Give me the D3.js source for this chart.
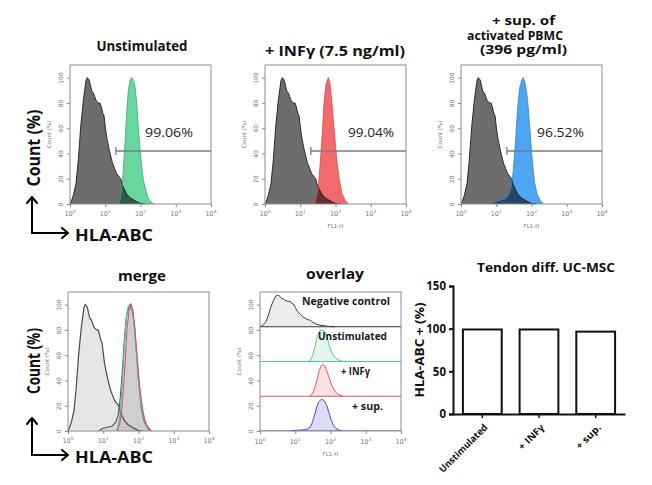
<!DOCTYPE html>
<html><head><meta charset="utf-8">
<script src="https://cdn.jsdelivr.net/npm/d3@7"></script>
<style>body{margin:0;background:#fff}svg{display:block}</style>
</head><body><svg id="c" width="652" height="485"></svg>
<script>
// ---------------- data ----------------
const xTickExps = [0, 1, 2, 3, 4];
const yTicks = [0, 20, 40, 60, 80, 100];
const barTicks = [0, 50, 100, 150];
// histogram profiles: [log10(FL1-H), count %]
const negControl = [[0,0],[0.047,3],[0.095,7],[0.17,16],[0.236,35],[0.303,61],[0.378,82],[0.454,98],[0.492,100],[0.548,98],[0.586,93],[0.624,89],[0.662,88],[0.7,85],[0.738,82],[0.775,81],[0.813,80],[0.851,80],[0.889,77],[0.927,72],[0.965,70],[1.002,61],[1.04,53],[1.097,45],[1.154,38],[1.21,32],[1.267,28],[1.324,24],[1.381,22],[1.437,20],[1.475,16],[1.532,12],[1.608,8],[1.702,5],[1.844,2.6],[1.986,0.5],[2.128,0]];
const unstimulated = [[1.371,0],[1.418,3],[1.466,11],[1.513,27],[1.56,48],[1.608,72],[1.655,90],[1.702,98],[1.749,100],[1.797,98],[1.844,93],[1.891,80],[1.939,61],[1.986,43],[2.033,30],[2.08,19],[2.156,10],[2.222,4.5],[2.317,1],[2.411,0]];
const infg = [[1.4,0],[1.466,6],[1.523,16],[1.579,37],[1.626,56],[1.674,80],[1.73,95],[1.797,100],[1.844,95],[1.891,82],[1.939,66],[1.986,51],[2.033,35],[2.109,19],[2.184,8],[2.27,3],[2.364,0]];
const supPBMC = [[0.879,0],[0.974,2],[1.116,3],[1.258,4],[1.352,7],[1.418,12],[1.475,24],[1.541,47],[1.607,76],[1.664,92],[1.721,98],[1.768,100],[1.825,95],[1.891,82],[1.948,61],[2.014,37],[2.08,18],[2.156,8],[2.251,2.6],[2.345,0]];
const positivePct = [99.06, 99.04, 96.52];
const pctLabels = ["99.06%", "99.04%", "96.52%"];
const barCategories = ["Unstimulated", "+ INFγ", "+ sup."];
const overlayLabels = ["Negative control", "Unstimulated", "+ INFγ", "+ sup."];
const gateRange = [20, 10000];
const gateLevel = 42;

// ---------------- drawing ----------------
const svg = d3.select('#c');
const FC = "'Open Sans','DejaVu Sans',sans-serif";
const FS = "'DejaVu Sans',sans-serif";

function text(x, y, s, size, w, opts = {}) {
  const t = svg.append('text').attr('x', x).attr('y', y).text(s)
    .attr('font-family', opts.family || FC).attr('font-size', size)
    .attr('font-weight', opts.weight || 700).attr('fill', opts.fill || '#111')
    .attr('text-anchor', opts.anchor || 'middle');
  if (opts.rotate) t.attr('transform', `rotate(${opts.rotate},${x},${y})`);
  if (w) t.attr('textLength', w).attr('lengthAdjust', 'spacingAndGlyphs');
  return t;
}

function frame(left, top, bottom, xlabOff, showXLabel) {
  const w = 141;
  const x = d3.scaleLog().domain([1, 1e4]).range([left, left + w]);
  const y = d3.scaleLinear().domain([0, 110]).range([bottom, top]);
  const g = svg.append('g');
  const id = 'clip' + left + '_' + top;
  svg.append('clipPath').attr('id', id).append('rect')
    .attr('x', left).attr('y', top).attr('width', w).attr('height', bottom - top);
  const plot = g.append('g').attr('clip-path', `url(#${id})`);
  const ax = svg.append('g');
  const ya = ax.append('g').attr('transform', `translate(${left},0)`)
    .call(d3.axisLeft(y).tickValues(yTicks).tickSize(3).tickPadding(3));
  ya.select('.domain').remove();
  ya.selectAll('line').attr('stroke', '#888');
  ya.selectAll('text').attr('font-family', FS).attr('font-size', 6).attr('fill', '#777')
    .attr('text-anchor', 'middle').attr('dy', 0).attr('x', 0).attr('y', 0)
    .attr('transform', 'translate(-7,0) rotate(-90)');
  const xa = ax.append('g').attr('transform', `translate(0,${bottom})`)
    .call(d3.axisBottom(x).tickValues(xTickExps.map(e => 10 ** e)).tickSize(3).tickFormat(''));
  xa.select('.domain').remove();
  xa.selectAll('line').attr('stroke', '#888');
  xTickExps.forEach(e => {
    const t = ax.append('text').attr('x', x(10 ** e)).attr('y', bottom + xlabOff)
      .attr('font-family', FS).attr('font-size', 6.5).attr('fill', '#777').attr('text-anchor', 'middle');
    t.append('tspan').text('10');
    t.append('tspan').attr('dy', -3).attr('font-size', 4.5).text(e);
  });
  if (showXLabel) {
    ax.append('text').attr('x', left + w / 2).attr('y', bottom + xlabOff + 12)
      .attr('font-family', FS).attr('font-size', 5.5).attr('fill', '#777').attr('text-anchor', 'middle').text('FL1-H');
  }
  ax.append('text').attr('transform', `translate(${left - 19},${(top + bottom) / 2}) rotate(-90)`)
    .attr('font-family', FS).attr('font-size', 5.5).attr('fill', '#777').attr('text-anchor', 'middle').text('Count (%)');
  const box = () => svg.append('rect').attr('x', left).attr('y', top).attr('width', w)
    .attr('height', bottom - top).attr('fill', 'none').attr('stroke', '#8c8c8c').attr('stroke-width', 1);
  return { plot, x, y, box, left, w };
}
function areaGen(f, base, scale) {
  return d3.area().x(d => f.x(10 ** d[0])).y0(f.y(base)).y1(d => f.y(base + d[1] * scale));
}
function lineGen(f, base, scale) {
  return d3.line().x(d => f.x(10 ** d[0])).y(d => f.y(base + d[1] * scale));
}

// ---- top row ----
const topPanels = [
  { left: 70, data: unstimulated, fill: '#69d69e', stroke: '#3aa870', pctX: 145, pctW: 48, fl: false },
  { left: 265, data: infg, fill: '#f36a6c', stroke: '#d94448', pctX: 348, pctW: 46, fl: true },
  { left: 461, data: supPBMC, fill: '#4ea5f2', stroke: '#2a80d0', pctX: 537, pctW: 47, fl: true }
];
topPanels.forEach((p, i) => {
  const f = frame(p.left, 65, 204, 12, p.fl);
  f.plot.append('path').datum(negControl).attr('d', areaGen(f, 0, 1)).attr('fill', '#6d6d6d');
  f.plot.append('path').datum(p.data).attr('d', areaGen(f, 0, 1)).attr('fill', p.fill)
    .style('mix-blend-mode', 'multiply');
  f.plot.append('path').datum(negControl).attr('d', lineGen(f, 0, 1)).attr('fill', 'none')
    .attr('stroke', '#1c1c1c').attr('stroke-width', 0.9);
  f.plot.append('path').datum(p.data).attr('d', lineGen(f, 0, 1)).attr('fill', 'none')
    .attr('stroke', p.stroke).attr('stroke-width', 0.8);
  const gy = f.y(gateLevel);
  f.plot.append('line').attr('x1', f.x(gateRange[0])).attr('x2', f.x(gateRange[1]))
    .attr('y1', gy).attr('y2', gy).attr('stroke', '#7d7d7d').attr('stroke-width', 1.5);
  f.plot.append('line').attr('x1', f.x(gateRange[0])).attr('x2', f.x(gateRange[0]))
    .attr('y1', gy - 4).attr('y2', gy + 4).attr('stroke', '#7d7d7d').attr('stroke-width', 1.3);
  f.box();
  text(p.pctX, 137, pctLabels[i], 12.5, p.pctW, { anchor: 'start', weight: 400, fill: '#222' });
});

text(142, 51, 'Unstimulated', 14, 91);
text(335, 56, '+ INFγ (7.5 ng/ml)', 14, 140);
text(523.5, 25, '+ sup. of', 11.5, 63);
text(515, 39.5, 'activated PBMC', 11.5, 96);
text(523.5, 54, '(396 pg/ml)', 11.5, 87);

// ---- merge ----
{
  const f = frame(68, 292, 431, 12, false);
  f.plot.append('path').datum(negControl).attr('d', areaGen(f, 0, 1)).attr('fill', '#e6e6e6');
  [supPBMC, unstimulated, infg].forEach(d => {
    f.plot.append('path').datum(d).attr('d', areaGen(f, 0, 1)).attr('fill', '#bdbdbd').attr('fill-opacity', 0.35);
  });
  f.plot.append('path').datum(negControl).attr('d', lineGen(f, 0, 1)).attr('fill', 'none')
    .attr('stroke', '#4a4a4a').attr('stroke-width', 1.2);
  [[supPBMC, '#555555'], [unstimulated, '#3cc8c4'], [infg, '#e8506a']].forEach(([d, c]) => {
    f.plot.append('path').datum(d).attr('d', lineGen(f, 0, 1)).attr('fill', 'none')
      .attr('stroke', c).attr('stroke-width', 1.1);
  });
  f.box();
  text(142, 281, 'merge', 14, 48);
}

// ---- overlay ----
{
  const f = frame(260, 292, 431, 13, true);
  const bands = [
    { d: negControl, base: 82.5, fill: '#ececec', stroke: '#3a3a3a', lx: 42 },
    { d: unstimulated, base: 55, fill: '#e4f6eb', stroke: '#5cc48e', lx: 58 },
    { d: infg, base: 27.5, fill: '#fde2e5', stroke: '#f0505c', lx: 81 },
    { d: supPBMC, base: 0, fill: '#dcdcf4', stroke: '#4b4bc0', lx: 92 }
  ];
  const sc = 0.25;
  bands.forEach(b => {
    f.plot.append('path').datum(b.d).attr('d', areaGen(f, b.base, sc)).attr('fill', b.fill);
    f.plot.append('line').attr('x1', f.left).attr('x2', f.left + f.w)
      .attr('y1', f.y(b.base)).attr('y2', f.y(b.base)).attr('stroke', b.stroke).attr('stroke-width', 1);
    f.plot.append('path').datum(b.d).attr('d', lineGen(f, b.base, sc)).attr('fill', 'none')
      .attr('stroke', b.stroke).attr('stroke-width', 1);
  });
  f.box();
  const lw = [88, 69, 29, 31];
  bands.forEach((b, i) => {
    text(f.left + b.lx, f.y(b.base + 17), overlayLabels[i], 10, lw[i], { anchor: 'start', fill: '#1a1a1a' });
  });
  text(335, 279, 'overlay', 14, 58);
}

// ---- big axis labels & arrows ----
function arrows(y0, yTop) {
  const g = svg.append('g').attr('stroke', '#000').attr('stroke-width', 2).attr('fill', 'none')
    .attr('stroke-linecap', 'round').attr('stroke-linejoin', 'round');
  g.append('path').attr('d', `M32,${y0}V${yTop}M27,${yTop + 6}L32,${yTop}L37,${yTop + 6}`);
  g.append('path').attr('d', `M32,${y0}H68M62,${y0 - 5}L68,${y0}L62,${y0 + 5}`);
}
arrows(233, 197);
arrows(455, 418);
text(39.5, 148, 'Count (%)', 17, 77, { rotate: -90 });
text(39.5, 361, 'Count (%)', 17, 66, { rotate: -90 });
text(114, 241, 'HLA-ABC', 16, 78);
text(114, 463, 'HLA-ABC', 16, 78);

// ---- bar chart ----
{
  const xb = d3.scaleBand().domain(barCategories).range([453, 625]).paddingInner(0.316).paddingOuter(0.175);
  const yb = d3.scaleLinear().domain([0, 150]).range([414, 286]);
  svg.append('g').selectAll('rect').data(barCategories).join('rect')
    .attr('x', d => xb(d)).attr('width', xb.bandwidth())
    .attr('y', (d, i) => yb(positivePct[i])).attr('height', (d, i) => yb(0) - yb(positivePct[i]))
    .attr('fill', '#fff').attr('stroke', '#111').attr('stroke-width', 2);
  const ya = svg.append('g').attr('transform', 'translate(453,0)')
    .call(d3.axisLeft(yb).tickValues(barTicks).tickSize(4).tickPadding(3));
  ya.select('.domain').attr('stroke', '#111').attr('stroke-width', 2);
  ya.selectAll('line').attr('stroke', '#111').attr('stroke-width', 2);
  ya.selectAll('text').attr('font-family', FC).attr('font-weight', 700).attr('font-size', 11.5).attr('fill', '#111');
  const xa = svg.append('g').attr('transform', 'translate(0,414)')
    .call(d3.axisBottom(xb).tickSize(4).tickSizeOuter(0));
  xa.select('.domain').attr('stroke', '#111').attr('stroke-width', 2);
  xa.selectAll('line').attr('stroke', '#111').attr('stroke-width', 1.5);
  xa.selectAll('text').remove();
  const lw = [64, 32, 31];
  barCategories.forEach((c, i) => {
    const cx = xb(c) + xb.bandwidth() / 2;
    text(cx + 6, 428, c, 9.5, lw[i], { anchor: 'end', rotate: -45 });
  });
  text(546, 272, 'Tendon diff. UC-MSC', 12, 138);
  text(424, 350, 'HLA-ABC + (%)', 12, 95, { rotate: -90 });
}
</script></body></html>
